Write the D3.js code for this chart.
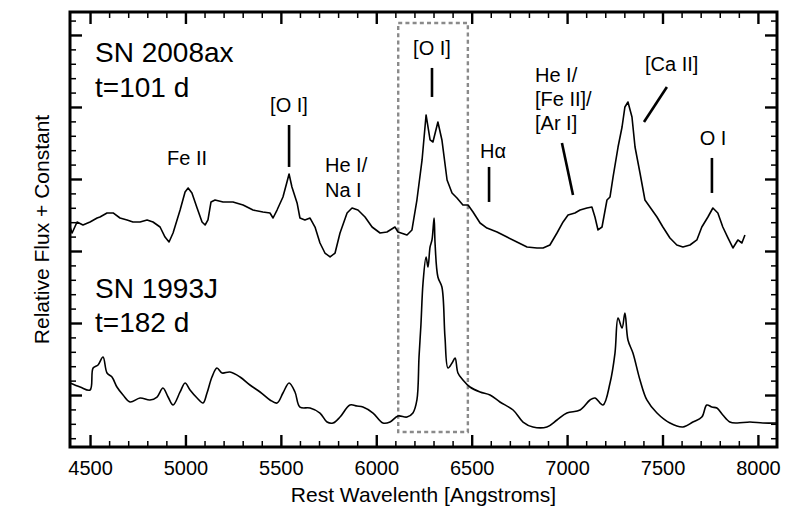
<!DOCTYPE html>
<html>
<head>
<meta charset="utf-8">
<script src="https://d3js.org/d3.v7.min.js"></script>
<style>
  html, body { margin: 0; padding: 0; background: #fff; }
  svg { display: block; }
  text { font-family: "Liberation Sans", Arial, Helvetica, sans-serif; fill: #000; }
</style>
</head>
<body>
<div id="chart"></div>
<script>
// ---------------- data ----------------
// SN 2008ax, t = 101 d (relative flux, offset)
const wave2008ax = [4395,4406,4432,4463,4500,4537,4552,4589,4621,4657,4694,4725,4762,4799,4830,4867,4893,4914,4935,4972,
  4998,5014,5034,5061,5087,5103,5118,5134,5155,5197,5249,5302,5354,5406,5443,5459,5480,5511,5532,5543,
  5558,5585,5600,5626,5653,5679,5705,5731,5758,5784,5810,5847,5873,5904,5941,5978,6020,6056,6098,6114,
  6161,6187,6213,6240,6261,6282,6297,6323,6344,6371,6397,6423,6454,6481,6507,6544,6580,6633,6685,6737,
  6790,6842,6874,6910,6947,6979,7005,7041,7068,7104,7130,7146,7162,7183,7209,7225,7241,7267,7288,7303,
  7319,7340,7356,7382,7408,7434,7471,7502,7539,7575,7607,7644,7680,7706,7738,7764,7790,7816,7843,7869,
  7895,7916,7932];
const flux2008ax = [2.333,2.25,2.403,2.361,2.403,2.458,2.472,2.528,2.528,2.458,2.431,2.403,2.403,2.431,2.403,2.333,2.194,2.125,2.25,2.569,
  2.819,2.875,2.806,2.597,2.403,2.361,2.431,2.681,2.708,2.681,2.681,2.639,2.569,2.542,2.528,2.458,2.569,2.75,2.958,3.069,
  2.889,2.667,2.458,2.431,2.458,2.333,2.111,1.972,1.917,1.972,2.25,2.528,2.597,2.569,2.472,2.333,2.25,2.264,2.333,2.264,
  2.222,2.292,2.708,3.264,3.889,3.542,3.514,3.792,3.542,2.986,2.806,2.736,2.639,2.639,2.542,2.389,2.319,2.264,2.194,2.125,
  2.056,2.042,2.042,2.083,2.25,2.403,2.5,2.528,2.569,2.597,2.611,2.472,2.292,2.333,2.708,2.75,3.028,3.444,3.722,4.0,
  4.069,3.861,3.444,3.083,2.708,2.611,2.472,2.333,2.181,2.083,2.056,2.083,2.153,2.333,2.472,2.597,2.528,2.333,2.181,2.042,
  2.153,2.111,2.222];

// SN 1993J, t = 182 d (relative flux)
const wave1993J = [4395,4448,4500,4516,4542,4568,4589,4615,4641,4673,4710,4762,4814,4851,4882,4909,4935,4972,4998,5024,
  5061,5092,5113,5139,5165,5192,5233,5286,5338,5391,5443,5480,5511,5543,5574,5600,5653,5705,5742,5773,
  5810,5862,5899,5930,5983,6035,6072,6114,6161,6192,6213,6224,6234,6245,6261,6271,6282,6292,6303,6308,
  6323,6344,6360,6376,6397,6413,6428,6454,6491,6544,6596,6648,6717,6769,6821,6894,6947,6999,7068,7120,
  7146,7188,7225,7251,7267,7288,7303,7319,7345,7382,7418,7471,7539,7607,7659,7706,7732,7759,7785,7816,
  7853,7890,7958,8026,8099];
const flux1993J = [0.167,0.111,0.069,0.375,0.417,0.528,0.306,0.25,0.111,0,-0.097,-0.042,-0.069,-0.028,0.097,-0.028,-0.139,0.042,0.167,0.069,
  -0.042,-0.111,0.028,0.25,0.375,0.306,0.319,0.25,0.139,0.042,-0.069,-0.111,0.028,0.167,0.042,-0.167,-0.181,-0.25,-0.375,-0.389,
  -0.306,-0.139,-0.153,-0.167,-0.25,-0.389,-0.375,-0.292,-0.306,-0.25,-0.069,0.528,0.972,1.556,1.917,1.778,2.056,2.153,2.458,2.111,
  1.639,1.5,0.806,0.375,0.444,0.514,0.306,0.208,0.111,0.042,0,-0.097,-0.208,-0.375,-0.444,-0.444,-0.347,-0.25,-0.208,-0.069,
  -0.042,-0.139,0.167,0.583,1.069,0.931,1.139,0.764,0.583,0.208,-0.069,-0.25,-0.389,-0.444,-0.375,-0.306,-0.139,-0.167,-0.181,-0.278,
  -0.375,-0.389,-0.375,-0.389,-0.389];

const xMajorTicks = [4500,5000,5500,6000,6500,7000,7500,8000];
const xTickLabels = ["4500","5000","5500","6000","6500","7000","7500","8000"];
const yMajorTicks = [0,1,2,3,4,5];

const spectrumNames = ["SN 2008ax", "SN 1993J"];
const spectrumEpochs = ["t=101 d", "t=182 d"];

const lineIds = ["Fe II", "[O I]", "He I/|Na I", "[O I]", "Hα", "He I/|[Fe II]/|[Ar I]", "[Ca II]", "O I"];
// ---------------- layout ----------------
const W = 789, H = 517;
const L = 70, R = 777, T = 12, B = 447;

const svg = d3.select("#chart").append("svg").attr("width", W).attr("height", H);

const x = d3.scaleLinear().domain([4395, 8100]).range([L, R]);
const y = d3.scaleLinear().domain([-0.722, 5.319]).range([B, T]);

const xMinor = d3.range(4500, 8100, 100).filter(v => xMajorTicks.indexOf(v) < 0);
const yMinor = d3.range(-6, 54, 2).map(v => +(v / 10).toFixed(1)).filter(v => yMajorTicks.indexOf(v) < 0 && v > -0.722 && v < 5.319);

const MAJ = 12, MIN = 6;

function styleAxis(g, w) {
  g.select(".domain").remove();
  g.selectAll(".tick line").attr("stroke", "#000").attr("stroke-width", w);
}

// bottom axis (labels)
const gb = svg.append("g").attr("transform", `translate(0,${B})`)
  .call(d3.axisBottom(x).tickValues(xMajorTicks).tickFormat((d, i) => xTickLabels[i]).tickSize(-MAJ).tickPadding(14));
styleAxis(gb, 2.4);
gb.selectAll(".tick text").attr("font-size", 20).attr("font-family", "Liberation Sans, Arial, sans-serif").attr("fill", "#000");
const gbm = svg.append("g").attr("transform", `translate(0,${B})`)
  .call(d3.axisBottom(x).tickValues(xMinor).tickFormat("").tickSize(-MIN));
styleAxis(gbm, 1.5);

// top axis
const gt = svg.append("g").attr("transform", `translate(0,${T})`)
  .call(d3.axisTop(x).tickValues(xMajorTicks).tickFormat("").tickSize(-MAJ));
styleAxis(gt, 2.4);
const gtm = svg.append("g").attr("transform", `translate(0,${T})`)
  .call(d3.axisTop(x).tickValues(xMinor).tickFormat("").tickSize(-MIN));
styleAxis(gtm, 1.5);

// left axis
const gl = svg.append("g").attr("transform", `translate(${L},0)`)
  .call(d3.axisLeft(y).tickValues(yMajorTicks).tickFormat("").tickSize(-MAJ));
styleAxis(gl, 2.4);
const glm = svg.append("g").attr("transform", `translate(${L},0)`)
  .call(d3.axisLeft(y).tickValues(yMinor).tickFormat("").tickSize(-MIN));
styleAxis(glm, 1.5);

// right axis
const gr = svg.append("g").attr("transform", `translate(${R},0)`)
  .call(d3.axisRight(y).tickValues(yMajorTicks).tickFormat("").tickSize(-MAJ));
styleAxis(gr, 2.4);
const grm = svg.append("g").attr("transform", `translate(${R},0)`)
  .call(d3.axisRight(y).tickValues(yMinor).tickFormat("").tickSize(-MIN));
styleAxis(grm, 1.5);

// dashed box around [O I] 6300,6364
svg.append("rect")
  .attr("x", x(6115)).attr("y", y(5.167))
  .attr("width", x(6480) - x(6115)).attr("height", y(-0.514) - y(5.167))
  .attr("fill", "none").attr("stroke", "#8a8a8a").attr("stroke-width", 2.4)
  .attr("stroke-dasharray", "4,3.2");

// spectra
const lineJag = d3.line().x(d => x(d[0])).y(d => y(d[1]));
const lineSmooth = d3.line().x(d => x(d[0])).y(d => y(d[1])).curve(d3.curveCatmullRom.alpha(0.5));
svg.append("path").datum(d3.zip(wave2008ax, flux2008ax))
  .attr("d", lineJag).attr("fill", "none").attr("stroke", "#000").attr("stroke-width", 1.6).attr("stroke-linejoin", "round");
svg.append("path").datum(d3.zip(wave1993J, flux1993J))
  .attr("d", lineSmooth).attr("fill", "none").attr("stroke", "#000").attr("stroke-width", 1.6).attr("stroke-linejoin", "round");

// frame
svg.append("rect").attr("x", L).attr("y", T).attr("width", R - L).attr("height", B - T)
  .attr("fill", "none").attr("stroke", "#000").attr("stroke-width", 3);

// spectrum names
[[62, 97], [298, 332]].forEach((ys, i) => {
  svg.append("text").attr("x", 95).attr("y", ys[0]).attr("font-size", 28).text(spectrumNames[i]);
  svg.append("text").attr("x", 95).attr("y", ys[1]).attr("font-size", 28).text(spectrumEpochs[i]);
});

// line identifications: text anchor (px) + marker segment in data units
const idMarks = [
  { tx: 187, ty: 165, anchor: "middle", seg: null },
  { tx: 289, ty: 112, anchor: "middle", seg: [[5543, 3.75], [5543, 3.167]] },
  { tx: 325, ty: 172, anchor: "start", seg: null, dy: 25 },
  { tx: 432, ty: 55, anchor: "middle", seg: [[6292, 4.542], [6292, 4.139]] },
  { tx: 480, ty: 158, anchor: "start", seg: [[6591, 3.167], [6591, 2.681]] },
  { tx: 535, ty: 82, anchor: "start", seg: [[6973, 3.5], [7031, 2.778]], dy: 24 },
  { tx: 645, ty: 71, anchor: "start", seg: [[7523, 4.278], [7403, 3.792]] },
  { tx: 713, ty: 145, anchor: "middle", seg: [[7759, 3.292], [7759, 2.806]] }
];
idMarks.forEach((m, i) => {
  const parts = lineIds[i].split("|");
  const t = svg.append("text").attr("font-size", 20).attr("text-anchor", m.anchor);
  parts.forEach((p, j) => {
    t.append("tspan").attr("x", m.tx).attr("y", m.ty + j * (m.dy || 24)).text(p);
  });
  if (m.seg) {
    svg.append("line")
      .attr("x1", x(m.seg[0][0])).attr("y1", y(m.seg[0][1]))
      .attr("x2", x(m.seg[1][0])).attr("y2", y(m.seg[1][1]))
      .attr("stroke", "#000").attr("stroke-width", 2.6);
  }
});

// axis titles
svg.append("text").attr("x", (L + R) / 2).attr("y", 502).attr("text-anchor", "middle")
  .attr("font-size", 21).text("Rest Wavelenth [Angstroms]");
svg.append("text").attr("transform", `translate(49,${(T + B) / 2}) rotate(-90)`).attr("text-anchor", "middle")
  .attr("font-size", 21).text("Relative Flux + Constant");
</script>
</body>
</html>
